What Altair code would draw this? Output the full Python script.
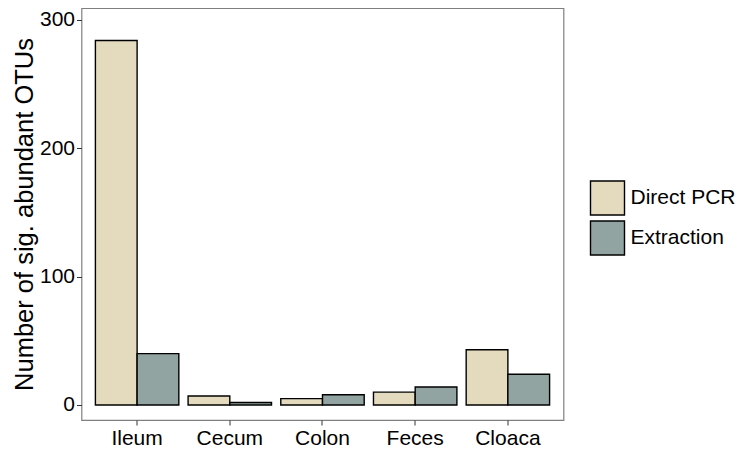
import altair as alt
import pandas as pd

sites = ["Ileum", "Cecum", "Colon", "Feces", "Cloaca"]
methods = ["Direct PCR", "Extraction"]
direct_pcr = [284, 7, 5, 10, 43]
extraction = [40, 2, 8, 14, 24]
y_ticks = [0, 100, 200, 300]
colors = ["#E4DBBE", "#91A4A1"]

rows = []
for s, d, e in zip(sites, direct_pcr, extraction):
    rows.append({"site": s, "method": methods[0], "n": d})
    rows.append({"site": s, "method": methods[1], "n": e})
df = pd.DataFrame(rows)

FONT = "Liberation Sans"

chart = alt.Chart(df).mark_bar(stroke="black", strokeWidth=1.4).encode(
    x=alt.X("site:N", sort=sites,
            scale=alt.Scale(paddingInner=0.1, paddingOuter=0.15),
            axis=alt.Axis(title=None, labelAngle=0, labelFontSize=21, labelFont=FONT,
                          labelColor="black", tickColor="#333333", tickSize=5,
                          labelPadding=2, domain=False, grid=False)),
    xOffset=alt.XOffset("method:N", sort=methods,
                        scale=alt.Scale(paddingInner=0, paddingOuter=0)),
    y=alt.Y("n:Q", scale=alt.Scale(domain=[-11.69, 309.35], nice=False, zero=False),
            axis=alt.Axis(title="Number of sig. abundant OTUs", values=y_ticks,
                          labelFontSize=21, labelFont=FONT, labelColor="black",
                          tickColor="#333333", tickSize=5, labelPadding=2,
                          domain=False, grid=False,
                          titleFontSize=25.5, titleFont=FONT, titleFontWeight="normal",
                          titleColor="black", titleAngle=-90, titleAlign="center",
                          titleBaseline="alphabetic", titleX=-49, titleY=206)),
    fill=alt.Fill("method:N", sort=methods,
                  scale=alt.Scale(domain=methods, range=colors),
                  legend=alt.Legend(title=None, orient="none", legendX=508, legendY=172,
                                    symbolType="square", symbolSize=1156,
                                    symbolStrokeColor="black", symbolStrokeWidth=1.4,
                                    labelFontSize=21, labelFont=FONT, labelColor="black",
                                    labelOffset=5, rowPadding=0, padding=0)),
).properties(
    width=482, height=412,
    autosize=alt.AutoSizeParams(type="none"),
    padding={"left": 73.5, "top": 0, "right": 178, "bottom": 31},
).configure_view(stroke="#7f7f7f", strokeWidth=1.2)

chart.save("out.html", embed_options={"renderer": "svg", "actions": False})
